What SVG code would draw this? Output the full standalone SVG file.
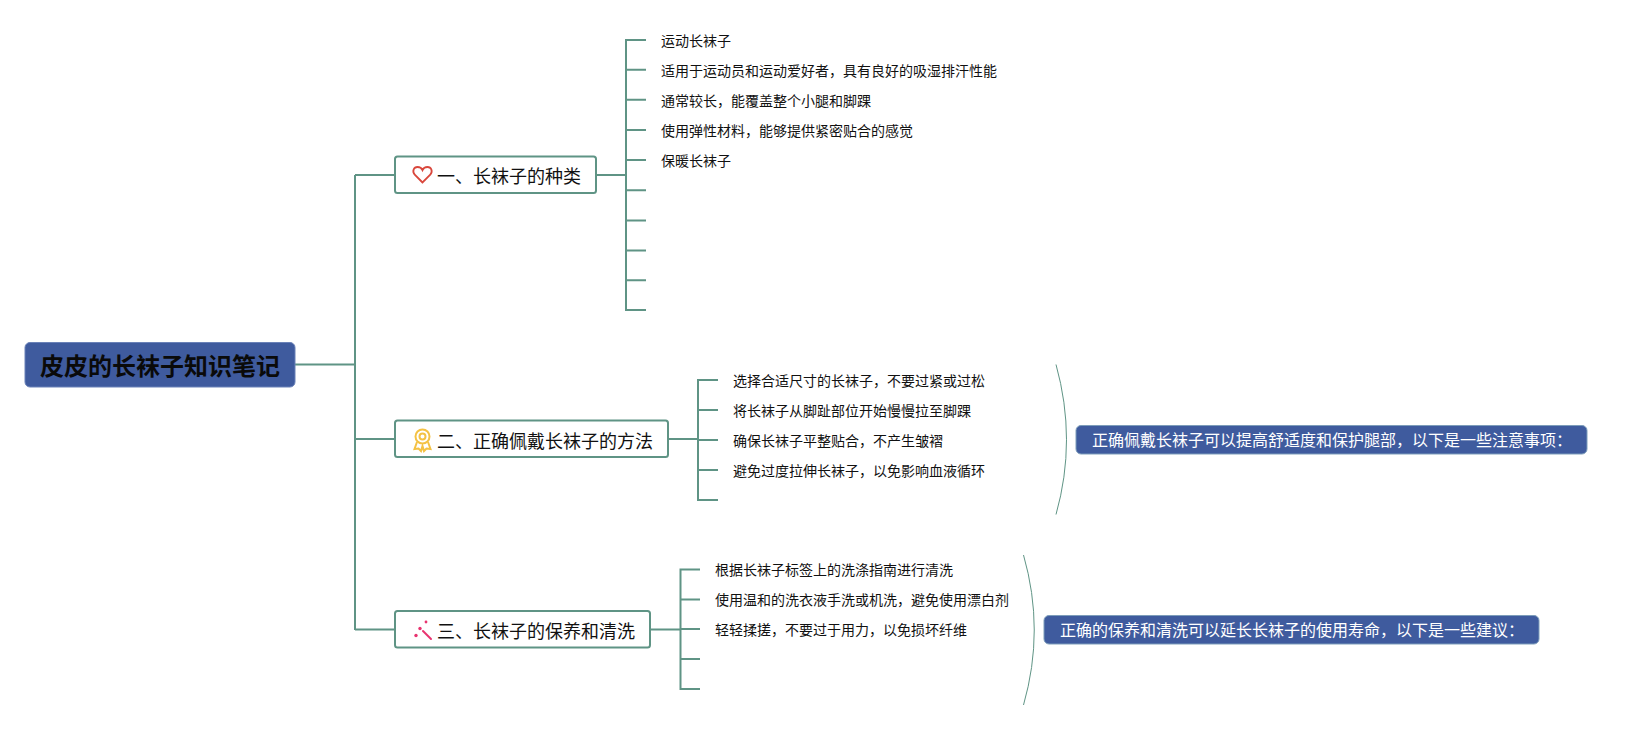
<svg xmlns="http://www.w3.org/2000/svg" width="1632" height="730" viewBox="0 0 1632 730">
<style>
text{font-family:"Noto Sans CJK SC","Noto Sans",sans-serif;dominant-baseline:central}
.c{fill:none;stroke:#5f9485;stroke-width:2}
.b{fill:none;stroke:#5f9485;stroke-width:1}
.n{fill:#fff;stroke:#5f9485;stroke-width:2}
.s{fill:#3f5b9e;stroke:#7d9dba;stroke-width:1}
.t{font-size:18px;fill:#111}
.l{font-size:14px;fill:#111}
.w{font-size:16px;fill:#fff}
</style>
<rect width="1632" height="730" fill="#fff"/>
<g id="connectors">
<path class="c" d="M295 364.500H355M355 175V630M355 175H395M355 439H395M355 629.500H395"/>
<path class="c" d="M596 175H626M646 40H626V310H646M626 69.700H646M626 99.800H646M626 130H646M626 160H646M626 190.300H646M626 220.400H646M626 250.500H646M626 280.300H646"/>
<path class="c" d="M668 439H698M718 380H698V500H718M698 410H718M698 440H718M698 470H718"/>
<path class="c" d="M650 629.500H680.500M700 569.500H680.500V689H700M680.500 599.500H700M680.500 629H700M680.500 659H700"/>
<path class="b" d="M1056 364.500Q1077 440 1056 514.500"/>
<path class="b" d="M1023.500 555Q1045 630 1023.500 705"/>
</g>
<g id="root">
<rect x="25" y="342.500" width="270" height="44.500" rx="5" fill="#3f5b9e" stroke="#6a82b8"/>
<text x="160" y="364" font-size="24" font-weight="700" fill="#0a0a0a" text-anchor="middle">皮皮的长袜子知识笔记</text>
</g>
<g id="node-1">
<rect class="n" x="395" y="156.500" width="201" height="36.500" rx="2.500"/>
<path d="M422.500 182.500L415 175C411.500 171 414 167 417.500 167C420 167 421.800 168.500 422.500 170C423.200 168.500 425 167 427.500 167C431 167 433.500 171 430 175Z" fill="none" stroke="#d9473c" stroke-width="1.800"/>
<text class="t" x="437" y="175">一、长袜子的种类</text>
</g>
<g id="node-2">
<rect class="n" x="395" y="420.500" width="273" height="36.500" rx="2.500"/>
<g fill="none" stroke="#f4c244" stroke-width="2"><circle cx="422.500" cy="436.500" r="7"/><circle cx="422.500" cy="436.500" r="3"/><path d="M417 442L414.500 449L418.500 448.500L421 451L422.500 446L424 451L426.500 448.500L430.500 449L428 442"/></g>
<text class="t" x="437" y="439.500">二、正确佩戴长袜子的方法</text>
</g>
<g id="node-3">
<rect class="n" x="395" y="611" width="255" height="36.500" rx="2.500"/>
<g fill="#e8336f" stroke="none"><path d="M423 631L431 639" stroke="#e8336f" stroke-width="2" stroke-linecap="round" fill="none"/><circle cx="420" cy="628.500" r="1.700"/><circle cx="426" cy="622" r="1.400"/><circle cx="416" cy="635.500" r="1.700"/></g>
<text class="t" x="437" y="629.500">三、长袜子的保养和清洗</text>
</g>
<g id="leaves" class="l">
<text class="l" x="661" y="39.500">运动长袜子</text>
<text class="l" x="661" y="69.500">适用于运动员和运动爱好者，具有良好的吸湿排汗性能</text>
<text class="l" x="661" y="99.500">通常较长，能覆盖整个小腿和脚踝</text>
<text class="l" x="661" y="129.700">使用弹性材料，能够提供紧密贴合的感觉</text>
<text class="l" x="661" y="159.700">保暖长袜子</text>
<text class="l" x="733" y="379.500">选择合适尺寸的长袜子，不要过紧或过松</text>
<text class="l" x="733" y="409.500">将长袜子从脚趾部位开始慢慢拉至脚踝</text>
<text class="l" x="733" y="439.500">确保长袜子平整贴合，不产生皱褶</text>
<text class="l" x="733" y="469.500">避免过度拉伸长袜子，以免影响血液循环</text>
<text class="l" x="715" y="569">根据长袜子标签上的洗涤指南进行清洗</text>
<text class="l" x="715" y="599">使用温和的洗衣液手洗或机洗，避免使用漂白剂</text>
<text class="l" x="715" y="629">轻轻揉搓，不要过于用力，以免损坏纤维</text>
</g>
<g id="summary-1">
<rect class="s" x="1076" y="425.500" width="511" height="28.500" rx="5"/>
<text class="w" x="1092" y="439">正确佩戴长袜子可以提高舒适度和保护腿部，以下是一些注意事项：</text>
</g>
<g id="summary-2">
<rect class="s" x="1044" y="615.500" width="495" height="28.500" rx="5"/>
<text class="w" x="1060" y="629">正确的保养和清洗可以延长长袜子的使用寿命，以下是一些建议：</text>
</g>
</svg>
